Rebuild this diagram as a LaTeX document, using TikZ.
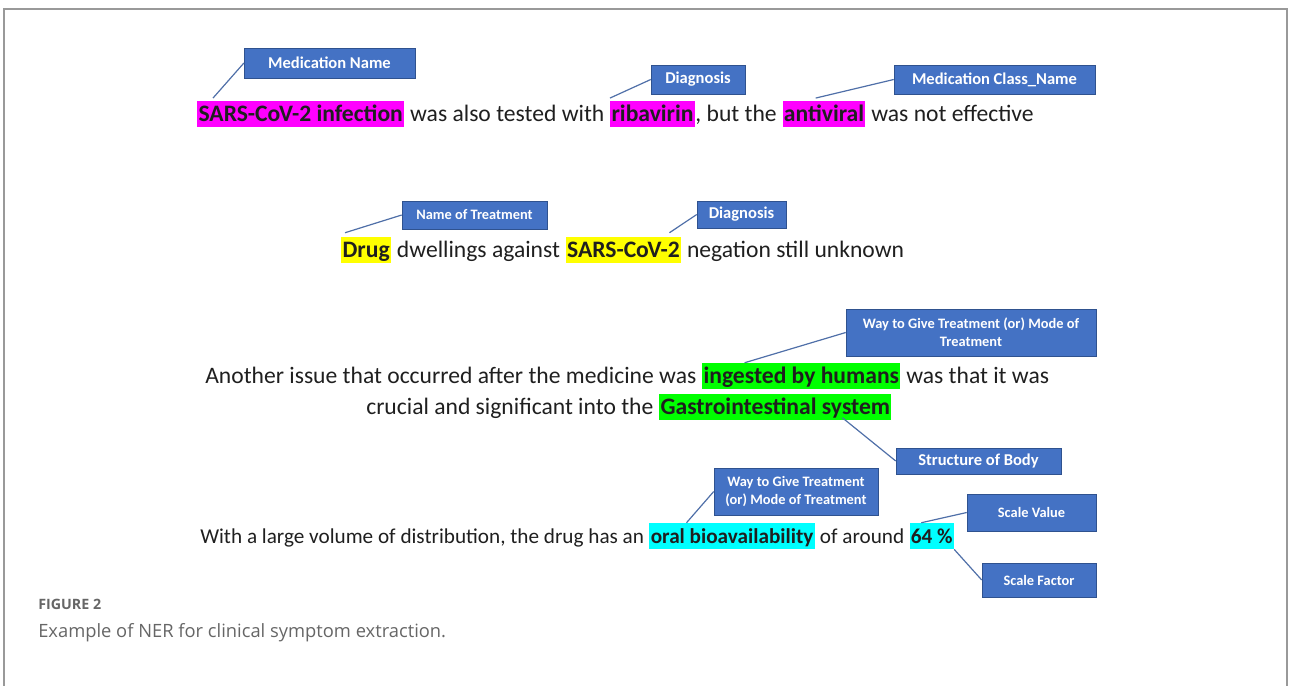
\documentclass[tikz,border=0pt]{standalone}
\usepackage{fontspec}
\setmainfont{Carlito}
\newfontfamily\captionfont{Open Sans}
\usetikzlibrary{positioning}

\definecolor{tagblue}{HTML}{4472C4}
\definecolor{tagedge}{HTML}{2F528F}
\definecolor{leadblue}{HTML}{4F6FA8}
\definecolor{hlpink}{HTML}{FF00FF}
\definecolor{hlyellow}{HTML}{FFFF00}
\definecolor{hlgreen}{RGB}{0,255,0}
\definecolor{hlcyan}{HTML}{00FFFF}
\definecolor{capgray}{HTML}{666666}

\tikzset{
  word/.style={inner sep=0pt, text=black!88},
  hl/.style={word, fill=#1, inner xsep=1pt, text height=15pt, text depth=4.6pt},
  rowa/.style={font=\fontsize{17.7}{21}\selectfont},
  rowd/.style={font=\fontsize{15.9}{19}\selectfont},
  tag/.style={draw=tagedge, fill=tagblue, text=white, inner sep=2pt, align=center,
    font=\bfseries\fontsize{12.4}{14}\selectfont},
  smalltag/.style={tag, font=\bfseries\fontsize{10.8}{13.5}\selectfont},
  leader/.style={draw=leadblue, line width=0.9pt}
}

\begin{document}
\begin{tikzpicture}[x=0.75pt, y=-0.75pt]
  \useasboundingbox (0,0) rectangle (1290,686);
  % frame
  \draw[gray!80, line width=1.2pt] (4,690) -- (4,9) -- (1287,9) -- (1287,690);

  % sentence 1
  \node[hl=hlpink, rowa, anchor=base west] (sars) at (197,121) {\bfseries SARS-CoV-2 infection};
  \node[word, rowa, base right=0pt of sars] (s1a) {\ was also tested with};
  \node[hl=hlpink, rowa, base right=4pt of s1a] (riba) {\bfseries ribavirin};
  \node[word, rowa, base right=0pt of riba] (s1b) {, but the};
  \node[hl=hlpink, rowa, base right=4pt of s1b] (antiv) {\bfseries antiviral};
  \node[word, rowa, base right=0pt of antiv] (s1c) {\ was not effective};

  \node[tag, minimum width=128pt, minimum height=22.5pt] (medname) at (329.5,63) {Medication Name};
  \node[tag, minimum width=70.5pt, minimum height=21.75pt] (diag1) at (698,79.5) {Diagnosis};
  \node[tag, minimum width=150.75pt, minimum height=21.75pt] (medclass) at (994.5,79.5) {Medication Class\_Name};

  \draw[leader] ([xshift=12pt, yshift=2pt]sars.north west) -- (medname.west);
  \draw[leader] ([yshift=2pt]riba.north west) -- (diag1.west);
  \draw[leader] ([xshift=25pt, yshift=2pt]antiv.north west) -- (medclass.west);

  % sentence 2
  \node[hl=hlyellow, rowa, anchor=base west] (drug) at (341,257) {\bfseries Drug};
  \node[word, rowa, base right=0pt of drug] (s2a) {\ dwellings against};
  \node[hl=hlyellow, rowa, base right=4pt of s2a] (sars2) {\bfseries SARS-CoV-2};
  \node[word, rowa, base right=0pt of sars2] (s2b) {\ negation still unknown};

  \node[smalltag, minimum width=108.75pt, minimum height=21pt] (treatname) at (474.5,215) {Name of Treatment};
  \node[tag, minimum width=66.75pt, minimum height=20.25pt] (diag2) at (741.5,214.5) {Diagnosis};

  \draw[leader] ([xshift=3pt, yshift=3pt]drug.north west) -- (treatname.west);
  \draw[leader] ([xshift=-9pt, yshift=3pt]sars2.north east) -- (diag2.west);

  % sentence 3
  \node[word, rowa, anchor=base west] (s3a) at (205,383) {Another issue that occurred after the medicine was};
  \node[hl=hlgreen, rowa, base right=4pt of s3a] (ingest) {\bfseries ingested by humans};
  \node[word, rowa, base right=0pt of ingest] (s3b) {\ was that it was};
  \node[word, rowa, anchor=base west] (s3c) at (366,414) {crucial and significant into the};
  \node[hl=hlgreen, rowa, base right=4pt of s3c] (gastro) {\bfseries Gastrointestinal system};

  \node[smalltag, minimum width=187.5pt, minimum height=35.25pt] (waygive1) at (971,332.5) {Way to Give Treatment (or) Mode of\\Treatment};
  \node[tag, minimum width=123.75pt, minimum height=19.5pt] (bodypart) at (978.5,461) {Structure of Body};

  \draw[leader] ([xshift=32pt]ingest.north west) -- (waygive1.west);
  \draw[leader] ([xshift=-37pt, yshift=2pt]gastro.south east) -- (bodypart.west);

  % sentence 4
  \node[word, rowd, anchor=base west] (s4a) at (200,543) {With a large volume of distribution, the drug has an};
  \node[hl=hlcyan, rowd, base right=3.6pt of s4a] (oral) {\bfseries oral bioavailability};
  \node[word, rowd, base right=0pt of oral] (s4b) {\ of around};
  \node[hl=hlcyan, rowd, base right=3.6pt of s4b] (pct) {\bfseries 64 \%};

  \node[smalltag, minimum width=123pt, minimum height=35.25pt] (waygive2) at (796,491.5) {Way to Give Treatment\\(or) Mode of Treatment};
  \node[smalltag, minimum width=96.75pt, minimum height=27.75pt] (scaleval) at (1031.5,512.5) {Scale Value};
  \node[smalltag, minimum width=85.5pt, minimum height=25.5pt] (scalefac) at (1039,580) {Scale Factor};

  \draw[leader] ([xshift=28pt]oral.north west) -- (waygive2.west);
  \draw[leader] ([xshift=9pt]pct.north west) -- (scaleval.west);
  \draw[leader] (pct.south east) -- (scalefac.west);

  % caption
  \node[anchor=base west, inner sep=0pt, text=capgray, font=\captionfont\bfseries\fontsize{10.7}{12}\selectfont] (figno) at (38,609) {FIGURE 2};
  \node[anchor=base west, inner sep=0pt, text=capgray, font=\captionfont\fontsize{13.75}{16}\selectfont] (figcap) at (38,637) {Example of NER for clinical symptom extraction.};
\end{tikzpicture}
\end{document}
